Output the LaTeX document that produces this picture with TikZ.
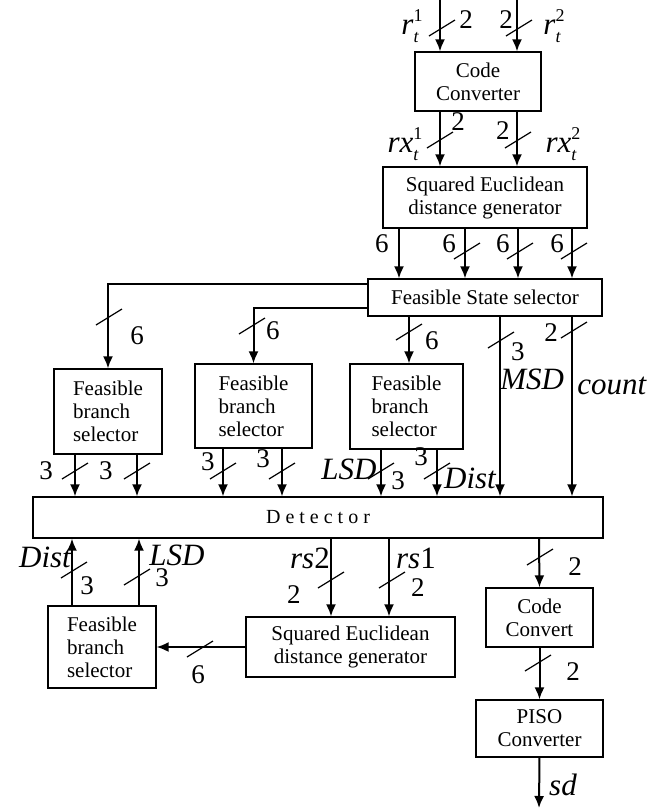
\documentclass[tikz,border=0pt]{standalone}
\usepackage{fontspec}
\setmainfont{Liberation Serif}
\usetikzlibrary{arrows.meta}
\tikzset{
  blk/.style={draw, line width=0.6pt, align=center, inner sep=0pt,
    font=\fontsize{10.5}{11.5}\selectfont},
  fbs/.style={blk, align=left, minimum width=54pt, minimum height=42.5pt},
  bus/.style={line width=1pt, -{Latex[length=6pt,width=5pt]}},
  num/.style={inner sep=0pt, font=\fontsize{13.5}{13.5}\selectfont},
  sig/.style={inner sep=0pt, font=\fontsize{15.5}{15.5}\selectfont\itshape},
  pics/tick/.style={code={\draw[line width=0.6pt] (-13,8) -- (13,-8);}}
}
\newcommand{\subsup}[3]{\textit{#1}\rlap{\raisebox{0.42em}{\fontsize{9}{9}\selectfont\upshape #3}}%
  \raisebox{-0.28em}{\fontsize{9}{9}\selectfont\itshape #2}}
\begin{document}
\begin{tikzpicture}[x=0.5pt,y=-0.5pt]
\useasboundingbox (0,0) rectangle (657,811);
% blocks
\node[blk, minimum width=63pt, minimum height=29.5pt] (cc) at (478,81.5) {Code\\Converter};
\node[blk, minimum width=102pt, minimum height=30.5pt] (sedA) at (485,197.5) {Squared Euclidean\\distance generator};
\node[blk, minimum width=117pt, minimum height=18.5pt] (fss) at (485,297.5) {Feasible State selector};
\node[fbs] (fbsA) at (108,411.5) {Feasible\\branch\\selector};
\node[fbs, minimum width=58.5pt, minimum height=42pt] (fbsB) at (253.5,406) {Feasible\\branch\\selector};
\node[fbs, minimum width=56.5pt] (fbsC) at (406.5,406.5) {Feasible\\branch\\selector};
\node[blk, minimum width=285pt, minimum height=20.5pt, font=\fontsize{10}{10}\selectfont] (det) at (318,517.5) {D e t e c t o r};
\node[fbs, minimum height=41pt] (fbsD) at (102,647) {Feasible\\branch\\selector};
\node[blk, minimum width=104.5pt, minimum height=30pt] (sedB) at (350.5,647) {Squared Euclidean\\distance generator};
\node[blk, minimum width=53.5pt, minimum height=29.5pt] (ccv) at (539.5,617.5) {Code\\Convert};
\node[blk, minimum width=63.5pt, minimum height=28.5pt] (piso) at (539.5,728.5) {PISO\\Converter};
% inputs
\coordinate (rA) at (440,0);
\coordinate (rB) at (517,0);
\coordinate (sd) at (539,808);
\draw[bus] (rA) -- (rA |- cc.north);
\draw[bus] (rB) -- (rB |- cc.north);
\draw[bus] (rA |- cc.south) -- (rA |- sedA.north);
\draw[bus] (rB |- cc.south) -- (rB |- sedA.north);
\pic at (442,28) {tick}; \pic at (519,28) {tick};
\pic at (440,140) {tick}; \pic at (518,140) {tick};
\node[sig] (lr1) at (410,26) {\subsup{r}{t}{1}};
\node[num] (nr1) at (466,20) {2};
\node[num] (nr2) at (506,20) {2};
\node[sig] (lr2) at (552,26) {\subsup{r}{t}{2}};
\node[sig] (lrx1) at (403,144) {\subsup{rx}{t}{1}};
\node[num] (nrx1) at (458,122) {2};
\node[num] (nrx2) at (503,131) {2};
\node[sig] (lrx2) at (561,144) {\subsup{rx}{t}{2}};
% distances to state selector
\foreach \x in {399,465,518,572}
  \draw[bus] (\x,0 |- sedA.south) -- (\x,0 |- fss.north);
\foreach \x in {467,520,574} \pic at (\x,251) {tick};
\node[num] (nd1) at (382,244) {6};
\node[num] (nd2) at (449,244) {6};
\node[num] (nd3) at (503,244) {6};
\node[num] (nd4) at (557,244) {6};
% state selector outputs
\draw[bus] (fss.west |- 0,284) -| (fbsA.north);
\draw[bus] (fss.west |- 0,308) -| (fbsB.north);
\draw[bus] (409,0 |- fss.south) -- (409,0 |- fbsC.north);
\draw[bus] (500,0 |- fss.south) -- (500,0 |- det.north);
\draw[bus] (572,0 |- fss.south) -- (572,0 |- det.north);
\pic at (109,317) {tick}; \pic at (252,326) {tick}; \pic at (409,332) {tick};
\pic at (501,340) {tick}; \pic at (574,330) {tick};
\node[num] (ns1) at (137,336) {6};
\node[num] (ns2) at (273,331) {6};
\node[num] (ns3) at (432,341) {6};
\node[num] (ns4) at (518,352) {3};
\node[num] (ns5) at (551,333) {2};
\node[sig, anchor=west] (lmsd) at (500,379) {MSD};
\node[sig, anchor=west] (lcnt) at (577,386) {count};
% branch selectors to detector
\foreach \x in {75,137} \draw[bus] (\x,0 |- fbsA.south) -- (\x,0 |- det.north);
\foreach \x in {223,282} \draw[bus] (\x,0 |- fbsB.south) -- (\x,0 |- det.north);
\foreach \x in {381,437} \draw[bus] (\x,0 |- fbsC.south) -- (\x,0 |- det.north);
\foreach \x in {75,137,223,282,381,437} \pic at (\x,471) {tick};
\node[num] (nb1) at (46,471) {3};
\node[num] (nb2) at (106,471) {3};
\node[num] (nb3) at (208,462) {3};
\node[num] (nb4) at (263,459) {3};
\node[sig, anchor=east] (llsd1) at (377,469) {LSD};
\node[num] (nb5) at (398,481) {3};
\node[num] (nb6) at (421,457) {3};
\node[sig] (ldist1) at (470,478) {Dist};
% detector outputs
\foreach \x in {72,139} \draw[bus] (\x,0 |- fbsD.north) -- (\x,0 |- det.south);
\foreach \x in {331,389} \draw[bus] (\x,0 |- det.south) -- (\x,0 |- sedB.north);
\draw[bus] (539,0 |- det.south) -- (ccv.north);
\draw[bus] (ccv.south) -- (piso.north);
\draw[bus] (piso.south) -- (sd);
\draw[bus] (sedB.west) -- (fbsD.east);
\pic at (74,570) {tick}; \pic at (137,577) {tick};
\pic at (331,580) {tick}; \pic at (392,580) {tick};
\pic at (200,649) {tick};
\pic at (540,557) {tick}; \pic at (538,663) {tick};
\node[sig] (ldist2) at (45,557) {Dist};
\node[num] (nu1) at (87,586) {3};
\node[sig] (llsd2) at (177,555) {LSD};
\node[num] (nu2) at (162,578) {3};
\node[sig] (lrs2) at (310,558) {rs\textup{2}};
\node[num] (nu3) at (294,595) {2};
\node[sig] (lrs1) at (416,558) {rs\textup{1}};
\node[num] (nu4) at (418,588) {2};
\node[num] (nu5) at (198,675) {6};
\node[num] (nu6) at (575,567) {2};
\node[num] (nu7) at (573,672) {2};
\node[sig] (lsd) at (563,785) {sd};
\end{tikzpicture}
\end{document}
